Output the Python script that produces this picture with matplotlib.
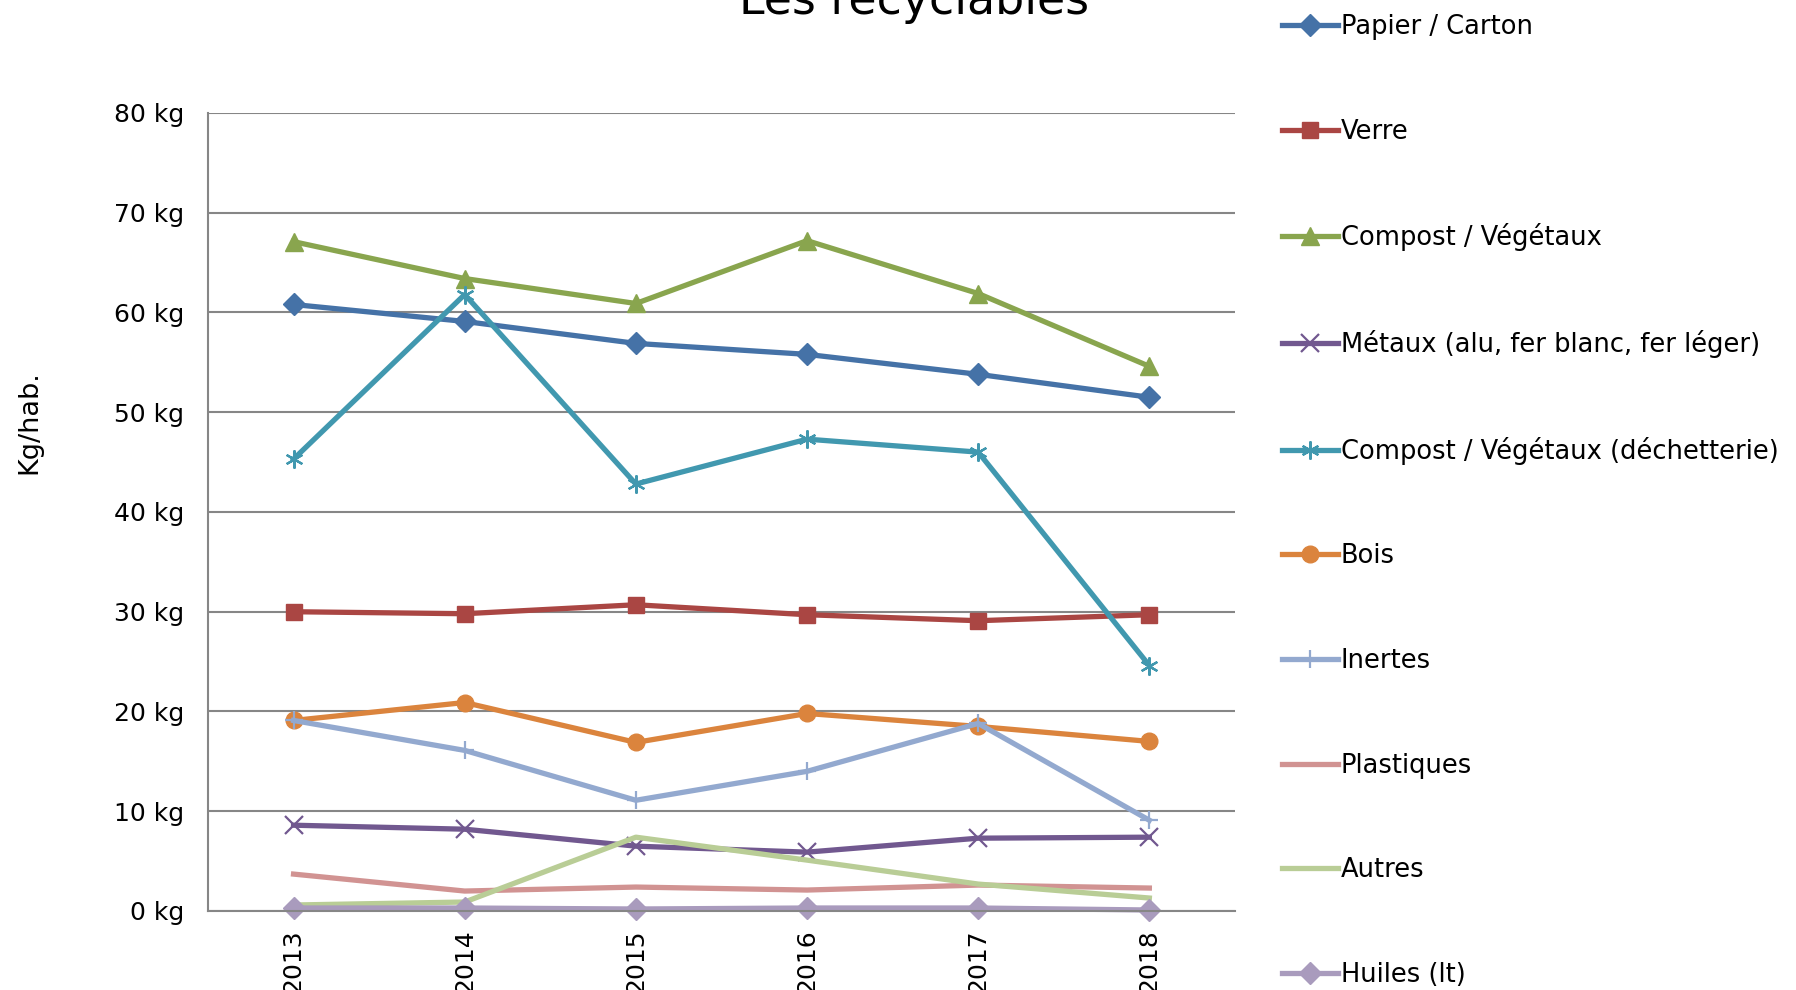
import matplotlib
matplotlib.use("Agg")
import matplotlib.pyplot as plt
from matplotlib.ticker import FuncFormatter

years = ["2013", "2014", "2015", "2016", "2017", "2018"]
papier = [60.8, 59.1, 56.9, 55.8, 53.8, 51.5]
verre = [30.0, 29.8, 30.7, 29.7, 29.1, 29.7]
compost = [67.1, 63.4, 60.9, 67.2, 61.9, 54.6]
metaux = [8.6, 8.2, 6.5, 5.9, 7.3, 7.4]
compost_dech = [45.3, 61.8, 42.8, 47.3, 46.0, 24.6]
bois = [19.1, 20.9, 16.9, 19.8, 18.5, 17.0]
inertes = [19.1, 16.1, 11.1, 14.0, 18.8, 9.1]
plastiques = [3.7, 2.0, 2.4, 2.1, 2.6, 2.3]
autres = [0.6, 0.9, 7.4, 5.1, 2.7, 1.3]
huiles = [0.3, 0.3, 0.2, 0.3, 0.3, 0.1]

series = [
    ("Papier / Carton", papier, "#4572A7", "D"),
    ("Verre", verre, "#AA4643", "s"),
    ("Compost / Végétaux", compost, "#89A54E", "^"),
    ("Métaux (alu, fer blanc, fer léger)", metaux, "#71588F", "x"),
    ("Compost / Végétaux (déchetterie)", compost_dech, "#4198AF", (6, 2, 0)),
    ("Bois", bois, "#DB843D", "o"),
    ("Inertes", inertes, "#93A9CF", "+"),
    ("Plastiques", plastiques, "#D19392", None),
    ("Autres", autres, "#B9CD96", None),
    ("Huiles (lt)", huiles, "#A99BBD", "D"),
]

plt.rcParams['font.family'] = ['DejaVu Sans']
fig = plt.figure(figsize=(17.96, 9.9), dpi=100)
ax = fig.add_axes([0.1158, 0.0798, 0.5718, 0.8061])

x = list(range(len(years)))
for label, vals, color, marker in series:
    kw = dict(color=color, linewidth=3.8, label=label, clip_on=False)
    if marker is not None:
        if marker in ("x", "+", (6, 2, 0)):
            kw.update(marker=marker, markersize=13, markeredgewidth=1.6,
                      markeredgecolor=color)
        else:
            ms = {"D": 11, "s": 11, "o": 12, "^": 13}[marker]
            kw.update(marker=marker, markersize=ms, markeredgecolor=color,
                      markerfacecolor=color)
    ax.plot(x, vals, **kw)

ax.set_xlim(-0.5, 5.5)
ax.set_ylim(0, 80)
ax.set_yticks(range(0, 81, 10))
ax.yaxis.set_major_formatter(FuncFormatter(lambda v, p: f"{int(v)} kg"))
ax.set_xticks(x)
ax.set_xticklabels(years, rotation=90, va="top")
ax.tick_params(axis="y", length=0, pad=17, labelsize=18, colors="#000000")
ax.tick_params(axis="x", length=0, pad=13, labelsize=18)
ax.grid(axis="y", color="#868686", linewidth=1.5)
ax.set_axisbelow(True)
for s in ("top", "right"):
    ax.spines[s].set_visible(False)
for s in ("left", "bottom"):
    ax.spines[s].set_color("#868686")
    ax.spines[s].set_linewidth(1.5)

fig.text(0.0162, 0.574, "Kg/hab.", rotation=90, ha="center", va="center",
         fontsize=19.5)
fig.text(0.509, 0.986, "Les recyclables", ha="center", va="baseline",
         fontsize=33)

leg = fig.legend(loc="upper left", bbox_to_anchor=(0.708, 0.996),
                 frameon=False, fontsize=18.5, labelspacing=3.06,
                 handlelength=2.2, handletextpad=0.1, borderaxespad=0)

fig.savefig("out.png", dpi=100)
